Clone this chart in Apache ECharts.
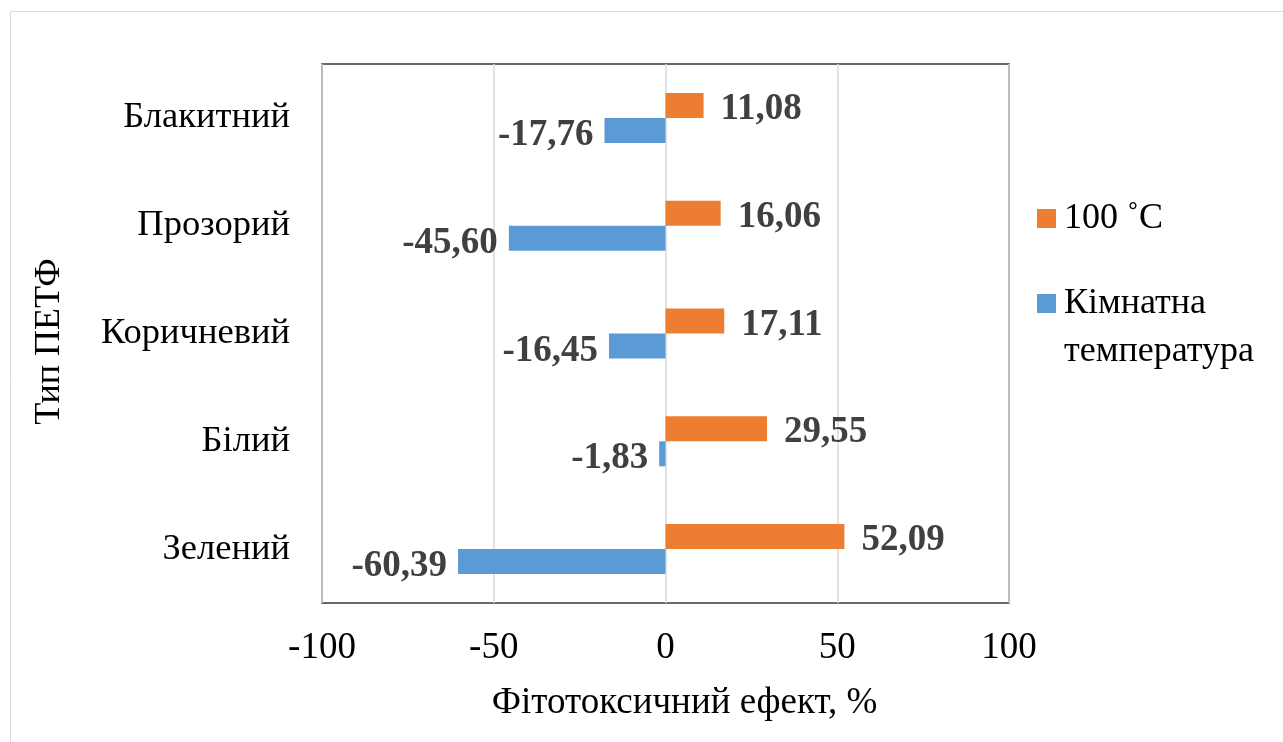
<!DOCTYPE html>
<html><head><meta charset="utf-8">
<script src="https://cdn.jsdelivr.net/npm/echarts@6/dist/echarts.min.js"></script>
<style>html,body{margin:0;padding:0;background:#fff}#c{width:1283px;height:742px}</style>
</head><body><div id="c"></div>
<script>
const categories = ['Зелений', 'Білий', 'Коричневий', 'Прозорий', 'Блакитний'];
const hotValues = [52.09, 29.55, 17.11, 16.06, 11.08];
const roomValues = [-60.39, -1.83, -16.45, -45.60, -17.76];
const seriesNames = ['100 ˚C', 'Кімнатна температура'];
const xTicks = [-100, -50, 0, 50, 100];

const fmt = p => p.value.toFixed(2).replace('.', ',');
const serif = '"Liberation Serif", "Times New Roman", serif';
const chart = echarts.init(document.getElementById('c'));
chart.setOption({
  animation: false,
  textStyle: { fontFamily: serif },
  graphic: [{ type: 'rect', shape: { x: 10.5, y: 11.5, width: 1300, height: 800 }, style: { fill: 'none', stroke: '#d9d9d9', lineWidth: 1 }, z: -1 }],
  grid: { left: 322, right: 274, top: 64, bottom: 139, show: true, borderColor: '#3a3a3a', borderWidth: 1.5 },
  legend: [
    { orient: 'vertical', left: 1037, top: 194.5, padding: 0, itemWidth: 19, itemHeight: 19, icon: 'rect', data: [seriesNames[0]],
      textStyle: { fontSize: 36, fontFamily: serif, color: '#000', lineHeight: 48, padding: [0, 0, 0, 3] }, itemGap: 0 },
    { orient: 'vertical', left: 1037, top: 231.5, padding: 0, itemWidth: 19, itemHeight: 19, icon: 'rect', data: [seriesNames[1]],
      formatter: () => '\nКімнатна\nтемпература',
      textStyle: { fontSize: 36, fontFamily: serif, color: '#000', lineHeight: 48, padding: [0, 0, 0, 3] }, itemGap: 0 }
  ],
  xAxis: {
    type: 'value', min: xTicks[0], max: xTicks[xTicks.length - 1], interval: 50,
    name: 'Фітотоксичний ефект, %', nameLocation: 'middle', nameGap: 82,
    nameTextStyle: { fontSize: 37, color: '#000', fontFamily: serif, padding: [0, 0, 0, 38] },
    axisLine: { show: false }, axisTick: { show: false },
    axisLabel: { fontSize: 37, color: '#000', margin: 27, fontFamily: serif },
    splitLine: { show: true, lineStyle: { color: '#d9d9d9', width: 1.5 } }
  },
  yAxis: {
    type: 'category', data: categories,
    name: 'Тип ПЕТФ', nameLocation: 'middle', nameGap: 254, nameRotate: 90,
    nameTextStyle: { fontSize: 36, color: '#000', fontFamily: serif, padding: [0, 16, 0, 0] },
    axisLine: { show: false }, axisTick: { show: false },
    axisLabel: { fontSize: 36.5, color: '#000', margin: 32, fontFamily: serif }
  },
  series: [
    { name: seriesNames[0], type: 'bar', data: hotValues, barWidth: 25, barGap: '0%',
      itemStyle: { color: '#ed7d31' },
      label: { show: true, position: 'right', distance: 17, offset: [0, 4], formatter: fmt, fontSize: 37, fontWeight: 'bold', color: '#404040', fontFamily: serif } },
    { name: seriesNames[1], type: 'bar', data: roomValues, barWidth: 25, barGap: '0%',
      itemStyle: { color: '#5b9bd5' },
      label: { show: true, position: 'left', distance: 11, offset: [0, 5], formatter: fmt, fontSize: 37, fontWeight: 'bold', color: '#404040', fontFamily: serif } }
  ]
});
</script></body></html>
